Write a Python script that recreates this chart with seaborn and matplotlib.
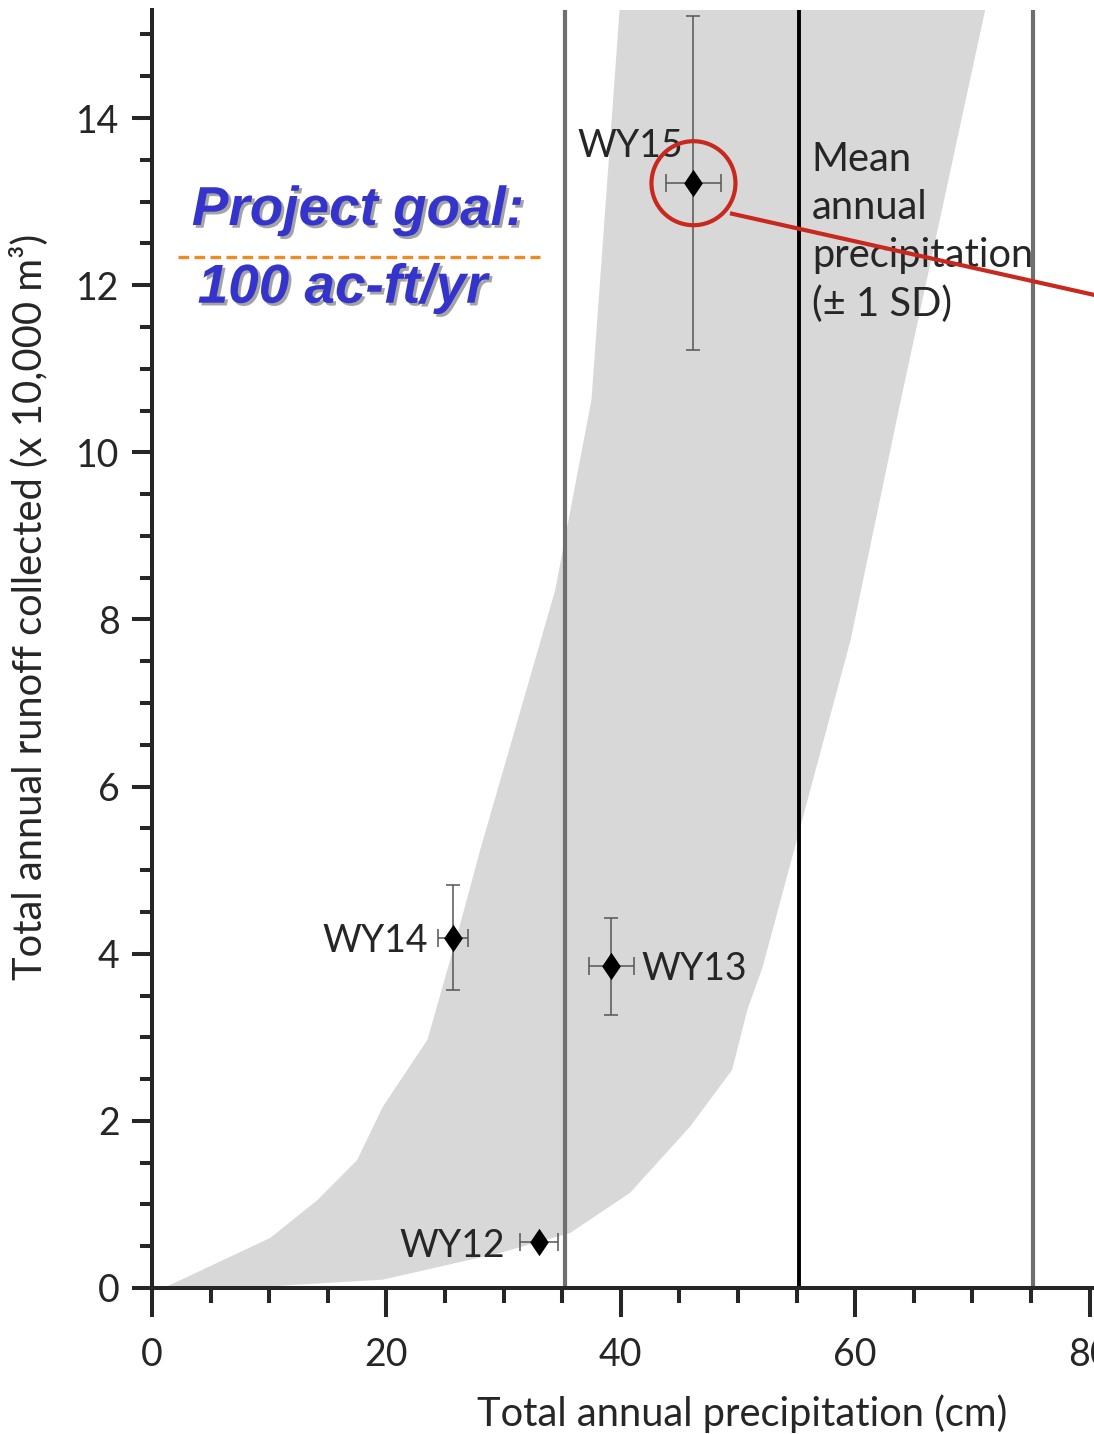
import matplotlib
matplotlib.use("Agg")
import matplotlib.pyplot as plt
import matplotlib.patheffects as pe
from matplotlib.patches import Ellipse
from matplotlib.ticker import MultipleLocator
import pandas as pd
import seaborn as sns

# ---- data -------------------------------------------------------------
years = ["WY12", "WY13", "WY14", "WY15"]
precip_cm = [33.0, 39.2, 25.7, 46.2]          # total annual precipitation
precip_err = [1.6, 1.9, 1.3, 2.35]
runoff = [0.55, 3.85, 4.19, 13.22]            # runoff collected, x 10,000 m3
runoff_err = [0.0, 0.58, 0.63, 2.0]

# envelope of modelled runoff vs. precipitation
env_left_x = [1.0, 10.1, 14.1, 17.5, 19.7, 23.5, 26.0, 28.0, 34.4, 37.5, 39.9]
env_left_y = [0.0, 0.60, 1.05, 1.53, 2.17, 2.97, 4.20, 5.24, 8.35, 10.63, 15.3]
env_right_x = [71.1, 63.9, 59.6, 52.1, 50.8, 49.5, 45.9, 40.8, 35.7, 29.7, 19.7, 10.1, 1.0]
env_right_y = [15.3, 10.63, 7.75, 3.84, 3.33, 2.61, 1.93, 1.14, 0.66, 0.42, 0.10, 0.02, 0.0]

precip_mean = 55.2
precip_sd = 20.0

goal_acft = 100.0
goal_runoff = goal_acft * 1233.48 / 10000.0   # ac-ft -> x 10,000 m3

x_ticks = [0, 20, 40, 60, 80]
y_ticks = [0, 2, 4, 6, 8, 10, 12, 14]

df = pd.DataFrame({"year": years, "precip": precip_cm, "runoff": runoff,
                   "xerr": precip_err, "yerr": runoff_err})

# ---- style ------------------------------------------------------------
sns.set_style("ticks")
plt.rcParams["font.family"] = ["Lato", "DejaVu Sans"]
plt.rcParams["axes.linewidth"] = 2.9

fig = plt.figure(figsize=(10.94, 14.34), dpi=100)
ax = fig.add_axes([152 / 1094, 146 / 1434, 942 / 1094, 1278 / 1434])

FS = 27
FS_LABEL = 28.7

# envelope
ax.fill(env_left_x + env_right_x, env_left_y + env_right_y,
        color="#d8d8d8", lw=0, zorder=0)

# mean precipitation and +/- 1 SD
ax.axvline(precip_mean, color="black", lw=2.8, zorder=1)
ax.axvline(precip_mean - precip_sd, color="#6f6f6f", lw=3.0, zorder=1)
ax.axvline(precip_mean + precip_sd, color="#6f6f6f", lw=3.0, zorder=1)

# error bars
ax.errorbar(df["precip"], df["runoff"], yerr=df["yerr"], fmt="none",
            ecolor="#555555", elinewidth=1.1, capsize=5, capthick=1.1, zorder=2)
ax.errorbar(df["precip"], df["runoff"], xerr=df["xerr"], fmt="none",
            ecolor="#555555", elinewidth=1.1, capsize=6.5, capthick=1.1, zorder=2)

# points
diamond = [(0, 1), (0.68, 0), (0, -1), (-0.68, 0), (0, 1)]
sns.scatterplot(data=df, x="precip", y="runoff", marker=diamond, s=390,
                color="black", edgecolor="black", linewidth=0, ax=ax, zorder=3)

# point labels
ax.text(45.3, 13.53, "WY15", ha="right", va="baseline", fontsize=FS, zorder=4)
ax.text(23.55, 4.02, "WY14", ha="right", va="baseline", fontsize=FS, zorder=4)
ax.text(41.8, 3.69, "WY13", ha="left", va="baseline", fontsize=FS, zorder=4)
ax.text(30.1, 0.37, "WY12", ha="right", va="baseline", fontsize=FS, zorder=4)

ax.text(56.3, 13.72, "Mean\nannual\nprecipitation\n(± 1 SD)", ha="left",
        va="top", fontsize=FS_LABEL, linespacing=1.36, zorder=4)

# project goal
ax.plot([2.2, 33.1], [goal_runoff, goal_runoff], color="#f08a22", lw=2.4,
        ls=(0, (3.2, 1.6)), zorder=4)
shadow = [pe.SimplePatchShadow(offset=(2, -2), shadow_rgbFace="#4a4a4a", alpha=0.5),
          pe.Normal()]
goal_font = dict(family=["Liberation Sans", "DejaVu Sans"], style="italic",
                 weight="bold", fontsize=39.5, color="#3434cc", zorder=5)
ax.text(3.4, 12.72, "Project goal:", ha="left", va="baseline",
        path_effects=shadow, **goal_font)
ax.text(3.9, 11.79, f"{goal_acft:.0f} ac-ft/yr", ha="left", va="baseline",
        path_effects=shadow, **goal_font)

# highlight of WY15
ax.add_patch(Ellipse((precip_cm[3], runoff[3]), width=84 / 11.72, height=84 / 83.57,
                     fill=False, edgecolor="#c8281e", lw=3.0, zorder=6))
ax.plot([49.32, 89.4], [12.86, 11.6], color="#c8281e", lw=3.0,
        solid_capstyle="butt", clip_on=False, zorder=6)

# axes
ax.set_xlim(0, 942 / 11.72)
ax.set_ylim(0, 1278 / 83.57)
ax.set_xticks(x_ticks)
ax.set_yticks(y_ticks)
ax.xaxis.set_minor_locator(MultipleLocator(5))
ax.yaxis.set_minor_locator(MultipleLocator(0.5))
ax.tick_params(axis="x", which="major", length=21, width=2.9, pad=14, labelsize=FS)
ax.tick_params(axis="x", which="minor", length=11, width=2.9)
ax.tick_params(axis="y", which="major", length=14.4, width=2.9, pad=9, labelsize=FS)
ax.tick_params(axis="y", which="minor", length=8.6, width=2.9)
sns.despine(ax=ax)

ax.set_xlabel("Total annual precipitation (cm)", fontsize=FS_LABEL, va="top")
ax.xaxis.set_label_coords(0.626, -0.083)
ax.set_ylabel("Total annual runoff collected (x 10,000 m³)", fontsize=FS_LABEL)
ax.yaxis.set_label_coords(-0.11, 0.533)

fig.savefig("out.png", dpi=100)
